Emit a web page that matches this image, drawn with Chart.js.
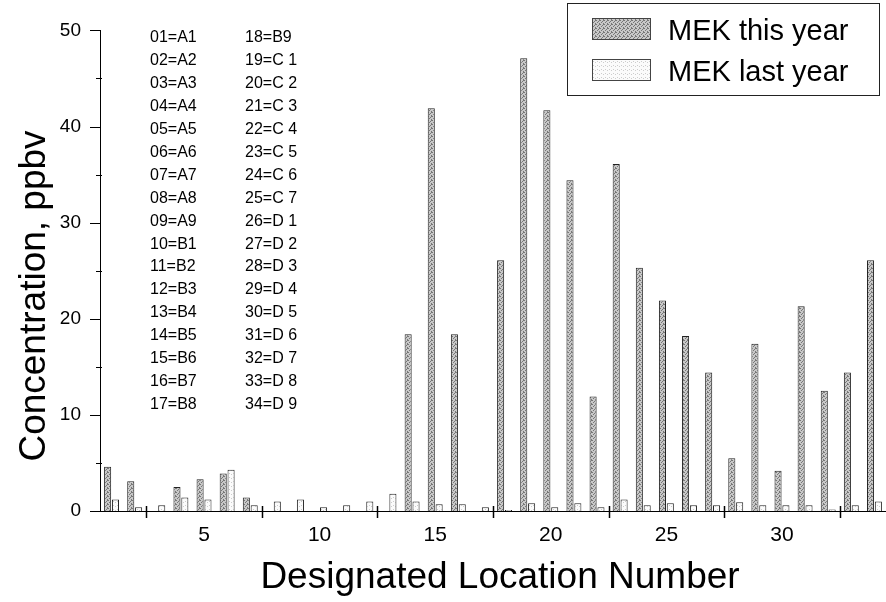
<!DOCTYPE html>
<html>
<head>
<meta charset="utf-8">
<title>MEK concentration by location</title>
<script src="https://cdn.jsdelivr.net/npm/chart.js@4.4.1/dist/chart.umd.min.js"></script>
<style>
    html, body { margin: 0; padding: 0; background: #fff; }
    #wrap { width: 886px; height: 602px; position: relative; }
</style>
</head>
<body>
<div id="wrap"><canvas id="chart1"></canvas></div>
<script>
// location numbers 1..34 and MEK readings (ppbv)
const locations = [1, 2, 3, 4, 5, 6, 7, 8, 9, 10, 11, 12, 13, 14, 15, 16, 17,
    18, 19, 20, 21, 22, 23, 24, 25, 26, 27, 28, 29, 30, 31, 32, 33, 34];
const mekThisYear = [4.6, 3.1, 0, 2.5, 3.3, 3.9, 1.4, 0, 0, 0, 0, 0, 0, 18.4, 41.9, 18.4, 0,
    26.1, 47.1, 41.7, 34.4, 11.9, 36.1, 25.3, 21.9, 18.2, 14.4, 5.5, 17.4, 4.2, 21.3, 12.5, 14.4, 26.1];
const mekLastYear = [1.2, 0.4, 0.6, 1.4, 1.2, 4.3, 0.6, 1.0, 1.2, 0.4, 0.6, 1.0, 1.8, 1.0, 0.7, 0.7, 0.4,
    0.1, 0.8, 0.4, 0.8, 0.4, 1.2, 0.6, 0.8, 0.6, 0.6, 0.9, 0.6, 0.6, 0.6, 0.15, 0.6, 1.0];

const xLabelTicks = [5, 10, 15, 20, 25, 30];
const xMarkTicks = [2.5, 7.5, 12.5, 17.5, 22.5, 27.5, 32.5];
const yLabelTicks = [0, 10, 20, 30, 40, 50];
const yMarkTicks = [5, 15, 25, 35, 45];

const keyLeft = ['01=A1', '02=A2', '03=A3', '04=A4', '05=A5', '06=A6', '07=A7', '08=A8', '09=A9',
    '10=B1', '11=B2', '12=B3', '13=B4', '14=B5', '15=B6', '16=B7', '17=B8'];
const keyRight = ['18=B9', '19=C 1', '20=C 2', '21=C 3', '22=C 4', '23=C 5', '24=C 6', '25=C 7', '26=D 1',
    '27=D 2', '28=D 3', '29=D 4', '30=D 5', '31=D 6', '32=D 7', '33=D 8', '34=D 9'];

const xTitle = 'Designated Location Number';
const yTitle = 'Concentration, ppbv';

const FONT = '"Liberation Sans", Arial, Helvetica, sans-serif';

// small dotted fill like the printed hatching
function stipple(base, dot, pts) {
    const c = document.createElement('canvas');
    c.width = 4; c.height = 4;
    const g = c.getContext('2d');
    g.fillStyle = base;
    g.fillRect(0, 0, 4, 4);
    g.fillStyle = dot;
    pts.forEach(p => g.fillRect(p[0], p[1], 1, 1));
    return g.createPattern(c, 'repeat');
}
const darkFill = stipple('#c8c8c8', '#777777', [[0, 0], [2, 1], [1, 2], [3, 3], [3, 0]]);
const lightFill = stipple('#fbfbfb', '#cdcdcd', [[1, 1], [3, 2]]);

// tick marks, axis titles, key list and boxed legend
const extras = {
    id: 'extras',
    afterDraw(chart) {
        const ctx = chart.ctx;
        const xs = chart.scales.x, ys = chart.scales.y;
        ctx.save();
        ctx.strokeStyle = '#000';
        ctx.lineWidth = 1.5;
        xMarkTicks.forEach(v => {
            const px = Math.round(xs.getPixelForValue(v)) + 0.5;
            ctx.beginPath();
            ctx.moveTo(px, ys.bottom - 5);
            ctx.lineTo(px, ys.bottom + 7);
            ctx.stroke();
        });
        ctx.lineWidth = 1;
        yLabelTicks.forEach(v => {
            const py = Math.round(ys.getPixelForValue(v)) + 0.5;
            ctx.beginPath();
            ctx.moveTo(xs.left - 10, py);
            ctx.lineTo(xs.left, py);
            ctx.stroke();
        });
        yMarkTicks.forEach(v => {
            const py = Math.round(ys.getPixelForValue(v)) + 0.5;
            ctx.beginPath();
            ctx.moveTo(xs.left - 4, py);
            ctx.lineTo(xs.left + 2, py);
            ctx.stroke();
        });

        // axis titles
        ctx.fillStyle = '#000';
        ctx.textAlign = 'center';
        ctx.textBaseline = 'middle';
        ctx.font = '37px ' + FONT;
        ctx.fillText(xTitle, 500, 578);
        ctx.save();
        ctx.translate(35, 296);
        ctx.rotate(-Math.PI / 2);
        ctx.font = '37px ' + FONT;
        ctx.fillText(yTitle, 0, 0);
        ctx.restore();

        // location key
        ctx.font = '16px ' + FONT;
        ctx.textAlign = 'left';
        keyLeft.forEach((t, i) => ctx.fillText(t, 150, 38 + i * 22.9));
        keyRight.forEach((t, i) => ctx.fillText(t, 245, 38 + i * 22.9));

        // legend box
        ctx.lineWidth = 1;
        ctx.strokeStyle = '#222';
        ctx.strokeRect(567.5, 3.5, 312, 92);
        ctx.font = '29px ' + FONT;
        chart.data.datasets.forEach((ds, i) => {
            const top = 18 + i * 41;
            ctx.fillStyle = ds.backgroundColor;
            ctx.fillRect(592, top, 58, 21);
            ctx.strokeStyle = '#444';
            ctx.strokeRect(592.5, top + 0.5, 58, 21);
            ctx.fillStyle = '#000';
            ctx.fillText(ds.label, 668, top + 14);
        });
        ctx.restore();
    }
};

let chart1 = new Chart(document.getElementById('chart1'), {
    type: 'bar',
    data: {
        datasets: [{
            label: 'MEK this year',
            data: locations.map((n, i) => ({ x: n, y: mekThisYear[i] })),
            backgroundColor: darkFill,
            borderColor: '#222',
            borderWidth: 1
        }, {
            label: 'MEK last year',
            data: locations.map((n, i) => ({ x: n, y: mekLastYear[i] })),
            backgroundColor: lightFill,
            borderColor: '#222',
            borderWidth: 1
        }]
    },
    options: {
        responsive: true,
        maintainAspectRatio: false,
        animation: false,
        categoryPercentage: 0.68,
        barPercentage: 0.9,
        layout: { padding: { top: 29, right: 0, left: 0, bottom: 0 } },
        plugins: {
            legend: { display: false },
            tooltip: { enabled: false }
        },
        scales: {
            x: {
                type: 'linear',
                min: 0.5,
                max: 34.5,
                offset: false,
                afterBuildTicks: s => { s.ticks = xLabelTicks.map(v => ({ value: v })); },
                afterFit: s => { s.height = 91; },
                grid: { display: false, drawTicks: false },
                border: { display: true, color: '#000', width: 1 },
                ticks: { color: '#000', padding: 12, font: { family: FONT, size: 21 } }
            },
            y: {
                min: 0,
                max: 50,
                afterBuildTicks: s => { s.ticks = yLabelTicks.map(v => ({ value: v })); },
                afterFit: s => { s.width = 100; },
                grid: { display: false, drawTicks: false },
                border: { display: true, color: '#000', width: 1 },
                ticks: { color: '#000', padding: 19, font: { family: FONT, size: 19 } }
            }
        }
    },
    plugins: [extras]
});
</script>
</body>
</html>
